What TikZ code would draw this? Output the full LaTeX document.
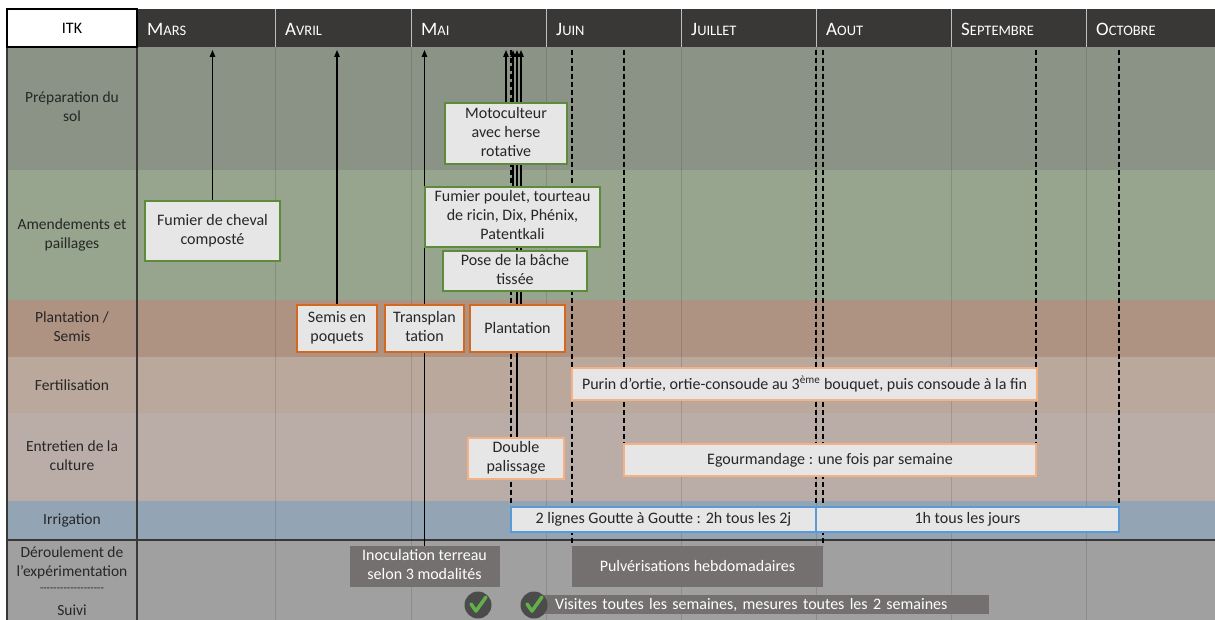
\documentclass[tikz,border=0pt]{standalone}
\usepackage{fontspec}
\setmainfont{Carlito}
\usetikzlibrary{arrows.meta,calc}
\pgfdeclarelayer{bg}
\pgfdeclarelayer{lines}
\pgfsetlayers{bg,lines,main}
\definecolor{hdrColor}{HTML}{3A3837}
\definecolor{prepColor}{HTML}{8A9385}
\definecolor{amendColor}{HTML}{97A58E}
\definecolor{plantColor}{HTML}{AE9382}
\definecolor{fertColor}{HTML}{B9A89B}
\definecolor{entrColor}{HTML}{BAADA7}
\definecolor{irrColor}{HTML}{93A5B4}
\definecolor{derColor}{HTML}{A0A0A0}
\definecolor{boxFill}{HTML}{E7E6E6}
\definecolor{txtColor}{HTML}{262626}
\definecolor{greenEdge}{HTML}{5E8A3C}
\definecolor{orangeEdge}{HTML}{D2691E}
\definecolor{peachEdge}{HTML}{F4B183}
\definecolor{blueEdge}{HTML}{5B9BD5}
\definecolor{expColor}{HTML}{747070}
\definecolor{chkColor}{HTML}{4B4B4B}
\definecolor{tickColor}{HTML}{62B04A}
\newcommand{\mois}[2]{{\fontsize{19}{19}\selectfont #1}{\fontsize{14.5}{14.5}\selectfont #2}}
\tikzset{
	box/.style={fill=boxFill, text=txtColor, inner sep=0pt, outer sep=0pt, font=\fontsize{16}{19}\selectfont},
	sol/.style={box, draw=greenEdge, line width=1.5pt},
	semis/.style={box, draw=orangeEdge, line width=2pt},
	soin/.style={box, draw=peachEdge, line width=1.5pt},
	eau/.style={box, draw=blueEdge, line width=1.5pt},
	manip/.style={fill=expColor, text=white, inner sep=0pt, outer sep=0pt, font=\fontsize{16}{19}\selectfont},
	wh/.style 2 args={minimum width=#1, minimum height=#2},
	rowlab/.style={text=txtColor, inner sep=0pt, font=\fontsize{15.5}{19}\selectfont},
	moislab/.style={text=white, anchor=west, inner sep=0pt},
	jalon/.style={-{Triangle[length=7pt,width=5.5pt]}, line width=1.3pt},
	trait/.style={dash pattern=on 5pt off 3pt, line width=1.4pt},
	coche/.pic={\fill[chkColor] (0,0) circle (13.5pt);
		\draw[tickColor, line width=3.5pt, line cap=round, line join=round] (-7,-1) -- (-2,6) -- (8,-8);}
}

\begin{document}
\begin{tikzpicture}[x=1pt,y=-1pt]
\useasboundingbox (0,0) rectangle (1215,620);
\begin{pgfonlayer}{bg}
% bandes
\fill[prepColor] (7,47) rectangle (1215,170);
\fill[amendColor] (7,170) rectangle (1215,300);
\fill[plantColor] (7,300) rectangle (1215,357);
\fill[fertColor] (7,357) rectangle (1215,413);
\fill[entrColor] (7,413) rectangle (1215,501);
\fill[irrColor] (7,501) rectangle (1215,540);
\fill[derColor] (7,540) rectangle (1215,620);
\fill[hdrColor] (137,9) rectangle (1215,47);
\foreach \mx/\ma/\mb [count=\i] in {137/M/ARS, 275/A/VRIL, 411/M/AI, 546/J/UIN, 681/J/UILLET, 816/A/OUT, 951/S/EPTEMBRE, 1086/O/CTOBRE}{
	\draw[white!75!black, line width=1pt] (\mx,9) -- (\mx,47);
	\draw[black, opacity=0.12, line width=0.8pt] (\mx,47) -- (\mx,620);
	\node[moislab] (mois\i) at (\mx+10,29) {\mois{\ma}{\mb}};
}
\draw[hdrColor, line width=1.3pt] (7,47) -- (7,620);
\draw[hdrColor, line width=1.3pt] (137,47) -- (137,620);
\draw[hdrColor, line width=1.5pt] (7,540) -- (1215,540);
\end{pgfonlayer}

\node[draw=black, line width=1.2pt, fill=white, outer sep=0pt, wh={130}{38}, font=\fontsize{16}{16}\selectfont] (itk) at (72,28) {ITK};

% lignes du tableau
\node[rowlab] (lPrep) at (72,108) {\begin{tabular}{@{}c@{}}Préparation du\\sol\end{tabular}};
\node[rowlab] (lAmend) at (72,235) {\begin{tabular}{@{}c@{}}Amendements et\\paillages\end{tabular}};
\node[rowlab] (lPlant) at (72,328) {\begin{tabular}{@{}c@{}}Plantation /\\Semis\end{tabular}};
\node[rowlab] (lFert) at (72,385) {Fertilisation};
\node[rowlab] (lEntr) at (72,457) {\begin{tabular}{@{}c@{}}Entretien de la\\culture\end{tabular}};
\node[rowlab] (lIrr) at (72,520) {Irrigation};
\node[rowlab] (lDer) at (72,563) {\begin{tabular}{@{}c@{}}Déroulement de\\l’expérimentation\end{tabular}};
\node[rowlab, font=\fontsize{11}{11}\selectfont] (lSep) at (72,590) {-{}-{}-{}-{}-{}-{}-{}-{}-{}-{}-{}-{}-{}-{}-{}-{}-{}-{}-{}};
\node[rowlab] (lSuivi) at (72,610) {Suivi};

% travail du sol
\node[sol, wh={135}{60}] (fumierCheval) at (212.5,231) {\begin{tabular}{@{}c@{}}Fumier de cheval\\composté\end{tabular}};
\node[sol, wh={122}{61}] (moto) at (506,133.5) {\begin{tabular}{@{}c@{}}Motoculteur\\avec herse\\rotative\end{tabular}};
\node[sol, wh={175}{60}] (poulet) at (512.5,217) {\begin{tabular}{@{}c@{}}Fumier poulet, tourteau\\de ricin, Dix, Phénix,\\Patentkali\end{tabular}};
\node[sol, wh={144}{40}] (bache) at (515,271) {\begin{tabular}{@{}c@{}}Pose de la bâche\\tissée\end{tabular}};

\node[semis, wh={80}{47}] (semisPoq) at (337,328.5) {\begin{tabular}{@{}c@{}}Semis en\\poquets\end{tabular}};
\node[semis, wh={79}{47}] (transplan) at (424.5,328.5) {\begin{tabular}{@{}c@{}}Transplan\\tation\end{tabular}};
\node[semis, wh={95}{47}] (plantation) at (517.5,328.5) {Plantation};

\node[soin, wh={465}{32}] (purin) at (804.5,384) {Purin d’ortie, ortie-consoude au 3\textsuperscript{ème} bouquet, puis consoude à la fin};
\node[soin, wh={412}{32}] (egour) at (830,460) {Egourmandage : une fois par semaine};
\node[soin, wh={96}{41}] (palissage) at (516,458.5) {\begin{tabular}{@{}c@{}}Double\\palissage\end{tabular}};

\node[eau, wh={305}{25}] (goutte) at (663.5,519.5) {2 lignes Goutte à Goutte : 2h tous les 2j};
\node[eau, wh={303}{25}] (unh) at (967.5,519.5) {1h tous les jours};

\node[manip, wh={150}{41}] (inoculation) at (424.5,566.5) {\begin{tabular}{@{}c@{}}Inoculation terreau\\selon 3 modalités\end{tabular}};
\node[manip, wh={251}{41}] (pulv) at (697.5,566.5) {Pulvérisations hebdomadaires};
\node[manip, wh={455}{19}, text width=413pt, inner xsep=21pt, align=left] (visites) at (761.5,604.5) {Visites toutes les semaines, mesures toutes les 2 semaines};
\pic at (478,605) {coche};
\pic at (534,605) {coche};

% reperes en haut
\coordinate (hMars) at (212.5,50);
\coordinate (hAvril) at (337,50);
\coordinate (hMai) at (424.5,50);
\coordinate (hMoto) at (506,50);
\coordinate (hPoulet) at (513,50);
\coordinate (hPal) at (517,50);
\coordinate (hPlant) at (521,50);
\coordinate (dGoutte) at (511,50);
\coordinate (dJuin) at (572,50);
\coordinate (dEgour) at (624,50);
\coordinate (dAout) at (816,50);
\coordinate (dPulv) at (823,50);
\coordinate (dSept) at (1036,50);
\coordinate (dOct) at (1119,50);

\begin{pgfonlayer}{lines}
\draw[jalon] (fumierCheval) -- (hMars);
\draw[jalon] (semisPoq) -- (hAvril);
\draw[jalon] (transplan) -- (hMai);
\draw[line width=1.3pt] (transplan) -- (inoculation);
\draw[jalon] (moto) -- (hMoto);
\draw[jalon] (poulet.north -| hPoulet) -- (hPoulet);
\draw[jalon] (palissage.north -| hPal) -- (hPal);
\draw[jalon] (plantation.north -| hPlant) -- (hPlant);
\draw[trait] (dGoutte) -- (goutte.north west);
\draw[trait] (dJuin) -- (pulv.north west);
\draw[trait] (dEgour) -- (egour.north west);
\draw[trait] (dAout) -- (unh.north west);
\draw[trait] (dPulv) -- (pulv.north east);
\draw[trait] (dSept) -- (egour.north east);
\draw[trait] (dOct) -- (unh.north east);
\end{pgfonlayer}
\end{tikzpicture}
\end{document}
